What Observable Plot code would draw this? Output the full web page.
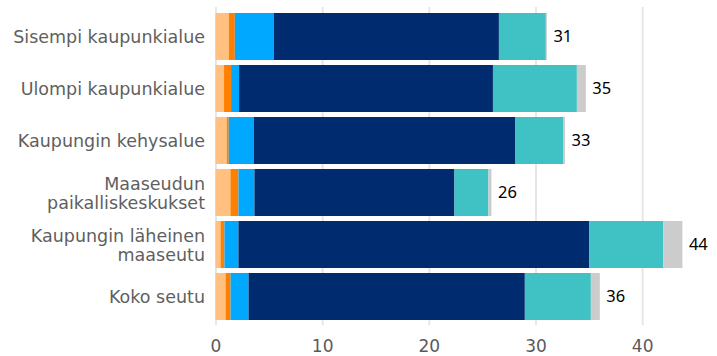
<!DOCTYPE html>
<html><head><meta charset="utf-8">
<script src="https://cdn.jsdelivr.net/npm/d3@7"></script>
<script src="https://cdn.jsdelivr.net/npm/@observablehq/plot@0.6"></script>
<style>body{margin:0;background:#fff}</style></head>
<body><div id="chart"></div>
<script>
const categories = [
  "Sisempi kaupunkialue",
  "Ulompi kaupunkialue",
  "Kaupungin kehysalue",
  "Maaseudun\npaikalliskeskukset",
  "Kaupungin läheinen\nmaaseutu",
  "Koko seutu"
];
const seriesNames = ["sarja1", "sarja2", "sarja3", "sarja4", "sarja5", "sarja6"];
const seriesColors = ["#FFC080", "#FF8000", "#00A8FF", "#002B6F", "#40C2C4", "#CCCCCC"];
const sarja1 = [1.25, 0.80, 1.05, 1.40, 0.47, 0.94];
const sarja2 = [0.56, 0.66, 0.19, 0.75, 0.37, 0.47];
const sarja3 = [3.66, 0.75, 2.34, 1.50, 1.31, 1.69];
const sarja4 = [21.1, 23.8, 24.5, 18.75, 32.9, 25.9];
const sarja5 = [4.40, 7.87, 4.50, 3.19, 6.94, 6.19];
const sarja6 = [0.10, 0.84, 0.19, 0.28, 1.78, 0.84];
const xTicks = [0, 10, 20, 30, 40];

const seriesValues = [sarja1, sarja2, sarja3, sarja4, sarja5, sarja6];
const rows = [];
categories.forEach((cat, i) => {
  seriesNames.forEach((s, j) => rows.push({cat, series: s, value: seriesValues[j][i]}));
});
const totals = categories.map((cat, i) => ({cat, total: d3.sum(seriesValues, v => v[i])}));

const chart = Plot.plot({
  width: 717, height: 356,
  marginLeft: 215.5, marginRight: 21.5, marginTop: 7, marginBottom: 31,
  x: {domain: [0, 45]},
  y: {domain: categories, padding: 0.1, axis: null},
  color: {domain: seriesNames, range: seriesColors},
  style: {fontFamily: "DejaVu Sans", fontSize: "17px", color: "#5a5a5a", background: "#fff"},
  marks: [
    Plot.gridX(xTicks, {stroke: "#e6e6e6", strokeOpacity: 1, strokeWidth: 2}),
    Plot.axisX({ticks: xTicks, tickSize: 0, tickPadding: 14, fontSize: 17, label: null}),
    Plot.text(categories, {y: d => d, text: d => d, frameAnchor: "left", dx: -11, textAnchor: "end", lineHeight: 1.08, fontSize: 17.5, fill: "#5f5f5f"}),
    Plot.barX(rows, Plot.stackX({x: "value", y: "cat", fill: "series"})),
    Plot.text(totals, {x: "total", y: "cat", text: d => String(Math.round(d.total)), dx: 6, textAnchor: "start", fill: "#000", fontFamily: "Noto Sans", fontSize: 16.5})
  ]
});
document.getElementById("chart").appendChild(chart);
</script>
</body></html>
